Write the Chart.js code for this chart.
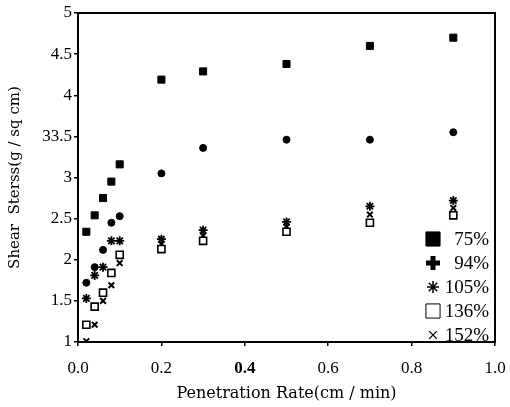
<!DOCTYPE html>
<html>
<head>
<meta charset="utf-8">
<script src="https://cdn.jsdelivr.net/npm/chart.js@4"></script>
<style>
  body { margin: 0; background: #fff; }
  #wrap { width: 510px; height: 407px; }
</style>
</head>
<body>
<div id="wrap"><canvas id="chart"></canvas></div>
<script>
// penetration rate (cm/min)
const rates = [0.02, 0.04, 0.06, 0.08, 0.1, 0.2, 0.3, 0.5, 0.7, 0.9];

// shear stress (g/sq cm) per series
const stress75 = [2.34, 2.54, 2.75, 2.95, 3.16, 4.19, 4.29, 4.38, 4.6, 4.7];
const stress94 = [1.72, 1.91, 2.12, 2.45, 2.53, 3.05, 3.36, 3.46, 3.46, 3.55];
const stress105 = [1.53, 1.81, 1.91, 2.23, 2.23, 2.25, 2.36, 2.46, 2.65, 2.72];
const stress136 = [1.21, 1.43, 1.6, 1.84, 2.06, 2.13, 2.23, 2.34, 2.45, 2.54];
const stress152 = [1.01, 1.21, 1.5, 1.69, 1.96, 2.19, 2.29, 2.4, 2.55, 2.63];

const seriesLabels = ['75%', '94%', '105%', '136%', '152%'];
const yTickLabels = { 1: '1', 1.5: '1.5', 2: '2', 2.5: '2.5', 3: '3', 3.5: '33.5', 4: '4', 4.5: '4.5', 5: '5' };

const serif = "'Liberation Serif', 'DejaVu Serif', serif";
const wideSerif = "'DejaVu Serif', serif";

function toPoints(values) {
    return rates.map((x, i) => ({ x: x, y: values[i] }));
}

const styles = [
    { pointStyle: 'rect', pointRadius: 5, backgroundColor: '#000', borderColor: '#000', borderWidth: 1 },
    { pointStyle: 'circle', pointRadius: 3.5, backgroundColor: '#000', borderColor: '#000', borderWidth: 1 },
    { pointStyle: 'star', pointRadius: 4.5, backgroundColor: '#000', borderColor: '#000', borderWidth: 1.8 },
    { pointStyle: 'rect', pointRadius: 5, backgroundColor: '#fff', borderColor: '#000', borderWidth: 1.6 },
    { pointStyle: 'crossRot', pointRadius: 4, backgroundColor: '#000', borderColor: '#000', borderWidth: 2 }
];

const allSeries = [stress75, stress94, stress105, stress136, stress152];

const datasets = allSeries.map((values, i) => Object.assign({
    label: seriesLabels[i],
    data: toPoints(values),
    showLine: false
}, styles[i]));

// frame round the plot area plus the legend inside it
const framePlugin = {
    id: 'frame',
    afterDraw(chart) {
        const ctx = chart.ctx;
        const a = chart.chartArea;
        ctx.save();
        ctx.strokeStyle = '#000';
        ctx.lineWidth = 2;
        ctx.strokeRect(a.left, a.top, a.right - a.left, a.bottom - a.top);

        const legendStyles = [
            { style: 'rect', r: 10, fill: '#000', lw: 1 },
            { style: 'cross', r: 7, fill: '#000', lw: 5 },
            { style: 'star', r: 6, fill: '#000', lw: 1.5 },
            { style: 'rect', r: 10, fill: '#fff', lw: 1 },
            { style: 'crossRot', r: 5.5, fill: '#000', lw: 1.3 }
        ];
        ctx.font = '19px ' + serif;
        ctx.textAlign = 'right';
        ctx.textBaseline = 'middle';
        seriesLabels.forEach((label, i) => {
            const y = 239 + i * 24;
            const s = legendStyles[i];
            ctx.fillStyle = s.fill;
            ctx.strokeStyle = '#000';
            ctx.lineWidth = s.lw;
            Chart.helpers.drawPoint(ctx, { pointStyle: s.style, radius: s.r, rotation: 0, borderWidth: s.lw }, a.right - 62, y);
            ctx.fillStyle = '#000';
            ctx.fillText(label, a.right - 6, y + 1);
        });
        ctx.restore();
    }
};

const chart = new Chart(document.getElementById('chart').getContext('2d'), {
    type: 'scatter',
    data: { datasets: datasets },
    options: {
        responsive: true,
        maintainAspectRatio: false,
        animation: false,
        layout: { padding: { top: 13, right: 15, left: 0, bottom: 0 } },
        plugins: {
            legend: { display: false },
            tooltip: { enabled: false }
        },
        scales: {
            x: {
                type: 'linear',
                min: 0,
                max: 1,
                afterFit: scale => {
                    scale.height = 65;
                    scale.paddingLeft = 0;
                    scale.paddingRight = 0;
                },
                ticks: {
                    stepSize: 0.2,
                    color: '#000',
                    padding: 12,
                    font: ctx => ({
                        family: serif,
                        size: 17,
                        weight: (ctx.tick && Math.abs(ctx.tick.value - 0.4) < 1e-6) ? 'bold' : 'normal'
                    }),
                    callback: value => value.toFixed(1)
                },
                grid: { drawOnChartArea: false, drawTicks: true, tickLength: 4, color: '#000', lineWidth: 1.5 },
                border: { color: '#000', width: 2 },
                title: {
                    display: true,
                    text: 'Penetration Rate(cm / min)',
                    color: '#000',
                    font: { family: wideSerif, size: 16 },
                    padding: { top: 0, bottom: 4 }
                }
            },
            y: {
                type: 'linear',
                min: 1,
                max: 5,
                afterFit: scale => {
                    scale.width = 78;
                    scale.paddingTop = 0;
                    scale.paddingBottom = 0;
                },
                ticks: {
                    stepSize: 0.5,
                    color: '#000',
                    padding: 2,
                    font: { family: serif, size: 17 },
                    callback: value => yTickLabels[value] || ''
                },
                grid: { drawOnChartArea: false, drawTicks: true, tickLength: 4, color: '#000', lineWidth: 1.5 },
                border: { color: '#000', width: 2 },
                title: {
                    display: true,
                    text: 'Shear  Sterss(g / sq cm)',
                    color: '#000',
                    font: { family: wideSerif, size: 15 },
                    padding: { top: 6, bottom: 2 }
                }
            }
        }
    },
    plugins: [framePlugin]
});
</script>
</body>
</html>
